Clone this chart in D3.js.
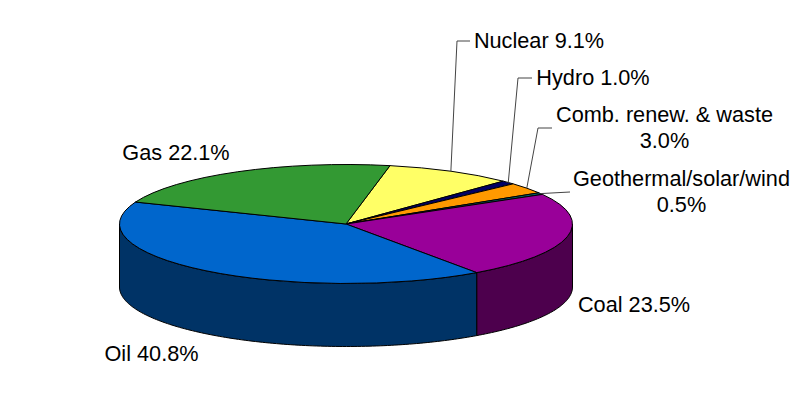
<!DOCTYPE html>
<html>
<head>
<meta charset="utf-8">
<script src="https://cdnjs.cloudflare.com/ajax/libs/d3/7.8.5/d3.min.js"></script>
<style>
  html, body { margin: 0; background: #fff; }
  text { font-family: "Liberation Sans", sans-serif; font-size: 21.7px; fill: #000; }
</style>
</head>
<body>
<div id="chart"></div>
<script>
// clockwise from the gas/nuclear boundary
const categories = ['Nuclear', 'Hydro', 'Comb. renew. & waste', 'Geothermal/solar/wind', 'Coal', 'Oil', 'Gas'];
const shares = [9.1, 1.0, 3.0, 0.5, 23.5, 40.8, 22.1];
const topColors = ['#ffff66', '#000066', '#ff9900', '#006666', '#990099', '#0066cc', '#339933'];
const sideColors = ['#808033', '#000033', '#804d00', '#003333', '#4d004d', '#003366', '#1a4d1a'];

const width = 800, height = 400;
const cx = 346, cy = 224, rx = 226.5, ry = 59.5, depth = 63;
const startAngle = 11.2 * Math.PI / 180;

// label placement, same order as categories
const labelLayout = [
  { lines: ['Nuclear 9.1%'], x: 539, y: 48, elbow: [[457, 41], [470, 41]] },
  { lines: ['Hydro 1.0%'], x: 593, y: 85, elbow: [[518, 78], [532, 78]] },
  { lines: ['Comb. renew. & waste', '3.0%'], x: 664.5, y: 122, elbow: [[538, 128], [552, 128]] },
  { lines: ['Geothermal/solar/wind', '0.5%'], x: 681.5, y: 186, elbow: [[570, 192]] },
  { lines: ['Coal 23.5%'], x: 634, y: 312 },
  { lines: ['Oil 40.8%'], x: 151.5, y: 361 },
  { lines: ['Gas 22.1%'], x: 176, y: 160 }
];

const svg = d3.select('#chart').append('svg')
  .attr('width', width)
  .attr('height', height)
  .style('display', 'block');

const pie = d3.pie()
  .sort(null)
  .startAngle(startAngle)
  .endAngle(startAngle + 2 * Math.PI);

const slices = pie(shares).map((d, i) => ({ ...d, name: categories[i] }));

const px = a => cx + rx * Math.sin(a);
const py = a => cy - ry * Math.cos(a);

// side wall: top rim forward, bottom rim back
function wallPath(a0, a1) {
  const n = Math.max(2, Math.ceil((a1 - a0) * 60));
  const angles = d3.range(n + 1).map(k => a0 + (a1 - a0) * k / n);
  const top = angles.map(a => [px(a), py(a)]);
  const bottom = angles.slice().reverse().map(a => [px(a), py(a) + depth]);
  return d3.line()(top.concat(bottom)) + 'Z';
}

// only the front half of the disc shows a wall
const front0 = Math.PI / 2, front1 = 3 * Math.PI / 2;
const wallG = svg.append('g');
slices.forEach((d, i) => {
  const a0 = Math.max(d.startAngle, front0);
  const a1 = Math.min(d.endAngle, front1);
  if (a1 <= a0) return;
  wallG.append('path')
    .attr('d', wallPath(a0, a1))
    .attr('fill', sideColors[i])
    .attr('stroke', '#000')
    .attr('stroke-width', 1)
    .attr('stroke-linejoin', 'round');
});

// top disc is a flat pie squashed into an ellipse
const arc = d3.arc().innerRadius(0).outerRadius(rx);
svg.append('g')
  .attr('transform', `translate(${cx},${cy}) scale(1,${ry / rx})`)
  .selectAll('path')
  .data(slices)
  .join('path')
  .attr('d', arc)
  .attr('fill', (d, i) => topColors[i])
  .attr('stroke', '#000')
  .attr('stroke-width', 1)
  .attr('vector-effect', 'non-scaling-stroke')
  .attr('stroke-linejoin', 'round');

// leader lines start on the rim at the slice middle
const leader = d3.line();
slices.forEach((d, i) => {
  const elbow = labelLayout[i].elbow;
  if (!elbow) return;
  const mid = (d.startAngle + d.endAngle) / 2;
  svg.append('path')
    .attr('d', leader([[px(mid), py(mid)], ...elbow]))
    .attr('fill', 'none')
    .attr('stroke', '#444')
    .attr('stroke-width', 1);
});

const labels = svg.append('g').selectAll('text')
  .data(labelLayout)
  .join('text')
  .attr('text-anchor', 'middle');

labels.selectAll('tspan')
  .data(d => d.lines.map((line, k) => ({ line, k, x: d.x, y: d.y })))
  .join('tspan')
  .attr('x', d => d.x)
  .attr('y', d => d.y + d.k * 25.5)
  .text(d => d.line);
</script>
</body>
</html>
